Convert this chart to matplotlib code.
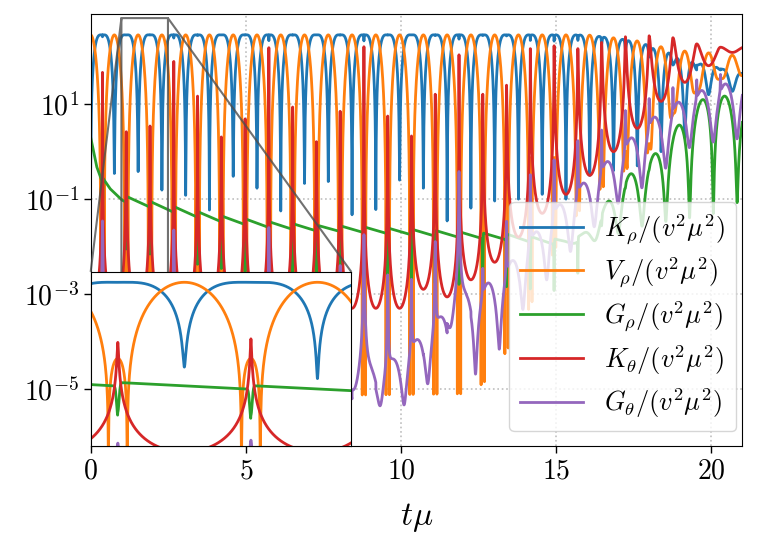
import numpy as np
import matplotlib.pyplot as plt

plt.rcParams['font.family'] = 'serif'
plt.rcParams['font.serif'] = ['cmr10']
plt.rcParams['mathtext.fontset'] = 'cm'
plt.rcParams['axes.formatter.use_mathtext'] = True

# timing of the radial oscillation
t_first_spike = 0.38   # first K_theta spike
half_period = 0.766    # spacing of spikes (and of K_rho dips)
v_ratio = 0.22         # v / amplitude, sets the double dip of V_rho

# K_theta spike heights (log10), one per spike
red_peaks = [1.67, 0.42, 0.54, 1.90, 1.17, 0.31, 0.69, 2.19, 0.94, 0.21,
             0.85, 2.21, 0.75, 0.33, 1.21, 2.04, 1.21, 1.40, 2.17, 2.23,
             2.17, 2.30, 2.42, 2.44, 2.40, 2.27, 2.20, 2.20]
# K_theta minima (log10) at the K_rho dips, first one sits before spike 0
red_mins = [-3.3, -3.3, -3.3, -3.3, -3.3, -3.3, -3.3, -3.3, -3.3, -3.3,
            -3.3, -3.3, -3.3, -3.3, -2.9, -3.06, -2.7, -2.33, -1.8, -1.3,
            -0.9, -0.5, 0.0, 0.49, 1.06, 1.46, 1.81, 2.09, 2.1]
# depth of the K_rho dips (log10), one per dip
blue_dips = [-0.46, -0.42, -0.81, -0.92, -1.23, -0.52, -0.77, -1.25, -0.67,
             -0.63, -1.33, -1.22, -0.60, -0.77, -1.46, -1.19, -1.04, -1.0,
             -0.9, -1.0, -0.5, -0.4, -0.3, 0.0, 0.3, 1.2, 1.27, 1.3]

# plateau level of K_rho / V_rho peaks (log10)
plateau_t = [0, 16.0, 17.5, 19.0, 21.0]
plateau_lv = [2.46, 2.46, 2.35, 2.1, 1.8]
# floor of the V_rho dips (log10)
vfloor_t = [0, 12.0, 14.0, 15.0, 16.0, 17.0, 18.0, 19.0, 20.0, 21.0]
vfloor_lv = [-7.0, -6.0, -3.5, -2.0, -1.0, -0.5, 0.0, 1.0, 1.5, 1.6]

# G_rho mean level (log10)
green_t = [0, 0.19, 0.41, 0.62, 1.0, 2.5, 3.2, 4.05, 4.8, 5.66, 6.4, 7.0,
           8.0, 10.0, 12.0, 13.5, 15.0, 16.0, 17.0, 18.0, 19.0, 20.0, 21.0]
green_lv = [0.3, -0.28, -0.63, -0.8, -0.98, -1.19, -1.29, -1.4, -1.46, -1.53,
            -1.57, -1.6, -1.62, -1.68, -1.75, -1.8, -1.9, -1.9, -1.7, -1.5,
            -1.4, -1.3, -1.0]
# late growth of the G_rho oscillation (log10 of hump height)
green_hump = [-9, -9, -9, -9, -9, -9, -9, -9, -9, -9, -9, -9, -9, -9, -9,
              -6, -4.0, -2.0, -0.7, -0.2, 0.6, 1.3, 1.0]

# G_theta spikes (log10), one per K_theta spike
purple_spikes = [-1.46, -3.0, -2.9, -1.65, -2.6, -3.2, -2.9, -1.6, -2.6, -3.2,
                 -2.4, -1.75, -2.6, -2.7, -1.9, -0.42, -2.6, -1.5, -0.5, -0.2,
                 0.2, 0.4, 0.8, 1.0, 1.2, 1.3, 1.4, 1.4]
# G_theta background, low and high envelopes (log10)
purple_t = [0, 5.0, 8.4, 10.0, 11.6, 13.2, 15.0, 16.8, 17.9, 19.4, 21.0]
purple_lo = [-10, -8.0, -5.6, -5.5, -5.15, -4.3, -2.5, -1.2, -0.72, 0.14, 0.28]
purple_hi = [-9, -6.5, -5.1, -4.3, -3.3, -2.6, -1.2, -0.15, 0.6, 1.2, 1.5]


def build_curves(t):
    phase = (t - t_first_spike) / half_period
    n = np.clip(np.round(phase).astype(int), 0, len(red_peaks) - 1)
    t_n = t_first_spike + n * half_period
    s = np.sin(np.pi * (t - t_n) / half_period)

    peak = np.array(red_peaks)[n]
    mins = np.array(red_mins)
    m = np.where(t < t_n, mins[n], mins[np.minimum(n + 1, len(mins) - 1)])
    k_theta = 10 ** peak / (1 + (10 ** (peak - m) - 1) * s ** 2)

    energy = 10 ** np.interp(t, plateau_t, plateau_lv)
    x = np.sin(np.pi * phase)
    a2 = v_ratio ** 2
    v_core = energy * (x ** 2 - a2) ** 2 / (1 - a2) ** 2
    v_rho = v_core + 10 ** np.interp(t, vfloor_t, vfloor_lv)

    k = np.clip(np.round(phase - 0.5).astype(int), 0, len(blue_dips) - 1)
    k_rho = np.clip(energy - v_core, 0, None) / (1 + 0.6 * k_theta / energy)
    k_rho = k_rho + 10 ** np.array(blue_dips)[k]

    frac = phase - np.floor(phase)
    g_log = np.interp(t, green_t, green_lv) + 0.12 * (0.5 - frac)
    g_log -= 1.0 * np.exp(-((t - t_n) / 0.01) ** 2) * (t > 0.2)
    g_rho = (10 ** g_log
             + 10 ** np.interp(t, green_t, green_hump) * np.sin(np.pi * (phase + 0.3)) ** 2)

    bg = np.sin(np.pi * (phase - 0.5 - 0.15 / half_period)) ** 2
    g_theta = (10 ** np.interp(t, purple_t, purple_lo)
               + 10 ** np.interp(t, purple_t, purple_hi) * bg
               + 10 ** np.array(purple_spikes)[n] / (1 + ((t - t_n) / 0.006) ** 2))
    return k_rho, v_rho, g_rho, k_theta, g_theta


t = np.linspace(0, 21, 21001)
curves = build_curves(t)
labels = [r'$K_\rho/(v^2\mu^2)$', r'$V_\rho/(v^2\mu^2)$', r'$G_\rho/(v^2\mu^2)$',
          r'$K_\theta/(v^2\mu^2)$', r'$G_\theta/(v^2\mu^2)$']
colors = ['C0', 'C1', 'C2', 'C3', 'C4']

fig = plt.figure(figsize=(7.57, 5.46), dpi=100)
ax = fig.add_axes([0.1198, 0.1832, 0.8608, 0.7912])
for y, lab, c in zip(curves, labels, colors):
    ax.plot(t, y, color=c, lw=2, label=lab)
ax.set_yscale('log')
ax.set_xlim(0, 21)
ax.set_ylim(10 ** -6.2, 10 ** 2.9)
ax.set_yticks([1e-5, 1e-3, 1e-1, 1e1])
ax.yaxis.set_minor_locator(plt.NullLocator())
ax.set_xticks([0, 5, 10, 15, 20])
ax.tick_params(labelsize=20, length=5, width=1)
ax.grid(True, linestyle=':', color='0.75', lw=1.2)
ax.set_xlabel(r'$t\mu$', fontsize=24, labelpad=12)
ax.legend(loc='lower right', bbox_to_anchor=(0.99, 0.035), borderaxespad=0,
          fontsize=19, labelspacing=0.38, handlelength=2.4)

# zoomed inset of the early oscillation
axins = ax.inset_axes([0, 0, 0.4, 0.403])
for y, c in zip(curves, colors):
    axins.plot(t, y, color=c, lw=2)
axins.set_yscale('log')
axins.set_xlim(0.99, 2.49)
axins.set_ylim(8e-4, 650)
axins.set_xticks([])
axins.set_yticks([])
axins.yaxis.set_minor_locator(plt.NullLocator())
ind = ax.indicate_inset_zoom(axins, edgecolor='0.3', alpha=0.8, lw=1.5)
for i, con in enumerate(ind.connectors):
    con.set_visible(i in (1, 3))

fig.savefig('out.png', dpi=100)
